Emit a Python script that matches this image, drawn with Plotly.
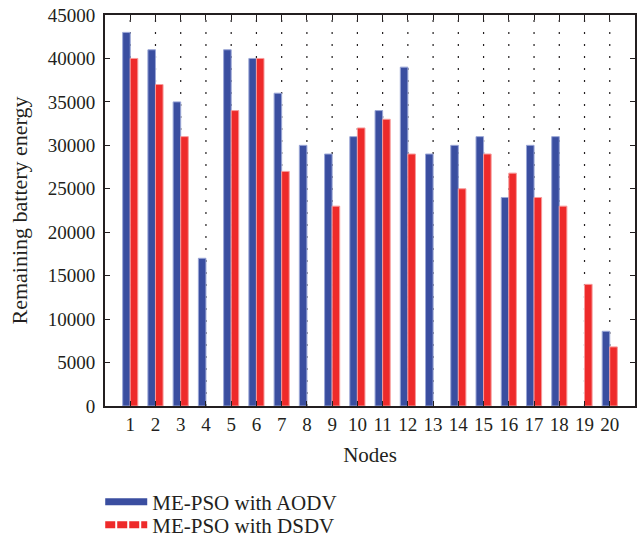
import plotly.graph_objects as go

nodes = list(range(1, 21))
aodv = [43000, 41000, 35000, 17000, 41000, 40000, 36000, 30000, 29000, 31000,
        34000, 39000, 29000, 30000, 31000, 24000, 30000, 31000, 0, 8600]
dsdv = [40000, 37000, 31000, 0, 34000, 40000, 27000, 0, 23000, 32000,
        33000, 29000, 0, 25000, 29000, 26800, 24000, 23000, 14000, 6800]
yticks = [0, 5000, 10000, 15000, 20000, 25000, 30000, 35000, 40000, 45000]

BLUE = "#3a4ea0"
RED = "#ee2a2a"
INK = "#231f20"
FONT = "Liberation Serif"

def nz(vals):
    return [v if v else None for v in vals]

fig = go.Figure()
fig.add_trace(go.Bar(x=nodes, y=nz(aodv), name="ME-PSO with AODV", marker_color=BLUE,
                     marker_line=dict(color="#9aa6d6", width=1), showlegend=False))
fig.add_trace(go.Bar(x=nodes, y=nz(dsdv), name="ME-PSO with DSDV", marker_color=RED,
                     marker_line=dict(color="#f79a9a", width=1), showlegend=False))
# legend entries drawn as lines like the reference (one legend per row)
fig.add_trace(go.Scatter(x=[None], y=[None], mode="lines", name="ME-PSO with AODV",
                         line=dict(color=BLUE, width=7), legend="legend"))
fig.add_trace(go.Scatter(x=[None], y=[None], mode="lines", name="ME-PSO with DSDV",
                         line=dict(color=RED, width=7, dash="10px,2px"), legend="legend2"))

# dotted vertical grid at each node (drawn below the bars)
shapes = [dict(type="line", xref="x", yref="paper", x0=n, x1=n, y0=0, y1=1,
               layer="below", line=dict(color=INK, width=1.2, dash="2px,10px"))
          for n in nodes]

leg_common = dict(x=-0.009, xanchor="left", yanchor="middle",
                  font=dict(family=FONT, size=21, color=INK),
                  bgcolor="rgba(0,0,0,0)", itemwidth=42)

fig.update_layout(
    width=642, height=541,
    margin=dict(l=105, r=7, t=15, b=135, autoexpand=False),
    plot_bgcolor="white", paper_bgcolor="white",
    barmode="group", bargap=0.4, bargroupgap=0,
    font=dict(family=FONT, size=19, color=INK),
    shapes=shapes,
    legend=dict(y=-0.2455, **leg_common),
    legend2=dict(y=-0.3043, **leg_common),
)
fig.update_xaxes(
    range=[0, 21], tickmode="array", tickvals=nodes, ticktext=[str(n) for n in nodes],
    ticks="inside", ticklen=5, tickcolor=INK, showline=True, linecolor=INK,
    linewidth=2, mirror="ticks", showgrid=False, zeroline=False,
    title=dict(text="Nodes", font=dict(family=FONT, size=21), standoff=14),
    tickfont=dict(family=FONT, size=19),
)
fig.update_yaxes(
    range=[0, 45000], tickmode="array", tickvals=yticks, ticktext=[str(v) for v in yticks],
    ticks="inside", ticklen=5, tickcolor=INK, showline=True, linecolor=INK,
    linewidth=2, mirror="ticks", showgrid=False, zeroline=False, ticklabelstandoff=4,
    title=dict(text="Remaining battery energy", font=dict(family=FONT, size=22), standoff=14),
    tickfont=dict(family=FONT, size=19),
)

fig.write_html("out.html")
